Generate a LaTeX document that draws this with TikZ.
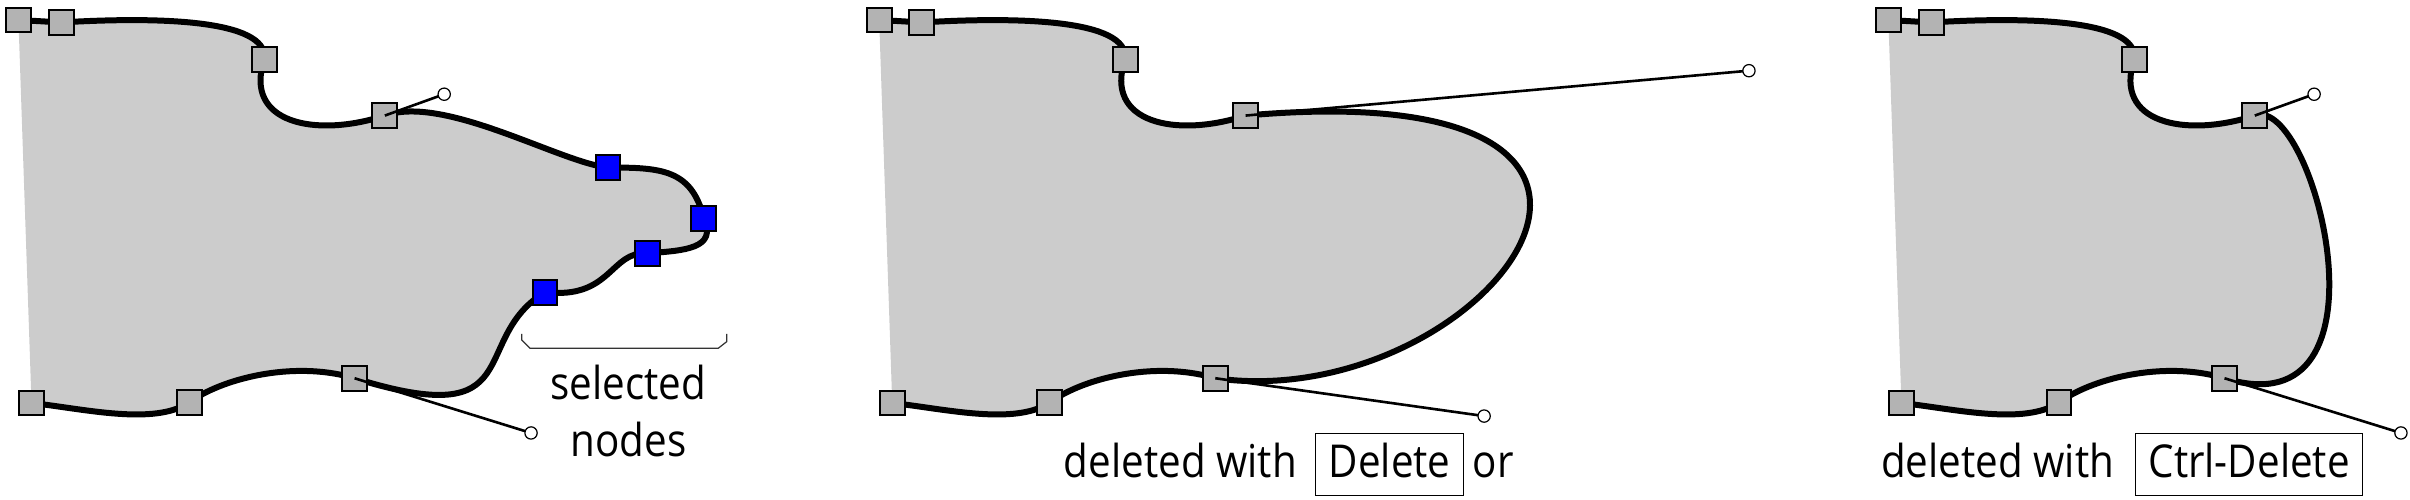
\documentclass[tikz,border=0pt]{standalone}
\usepackage{fontspec}
\newfontfamily\labelfont{Open Sans}[FakeStretch=0.89]
\definecolor{shapefill}{HTML}{CCCCCC}
\definecolor{nodegray}{HTML}{B3B3B3}
\definecolor{selblue}{HTML}{0000FF}
\tikzset{
  outline/.style={draw=black, fill=shapefill, line width=3.9pt, line join=round, line cap=round},
  pt/.style={rectangle, draw=black, line width=1.3pt, fill=nodegray, minimum size=16.2pt, inner sep=0pt},
  selpt/.style={pt, fill=selblue},
  handle/.style={draw=black, line width=1.7pt},
  knob/.style={circle, draw=black, fill=white, line width=0.8pt, minimum size=8pt, inner sep=0pt},
  lbl/.style={font=\labelfont\fontsize{29.5pt}{36.5pt}\selectfont, inner sep=0pt},
  keybox/.style={lbl, draw=black, line width=0.8pt, inner xsep=8.5pt, inner ysep=6.8pt, text height=21.7pt, text depth=5.2pt},
  bracket/.style={draw=black!80, line width=0.8pt},
}
% common parts of the outline (coordinates relative to each panel)
\newcommand\upperpath[1]{(A#1) -- (B#1) .. controls (100,11) and (175,12) .. (C#1) .. controls (158,80) and (205,90) .. (D#1)}
\newcommand\lowerpath[1]{(I#1) .. controls (190,234) and (142.7,247) .. (J#1) .. controls (100,277) and (55,266) .. (K#1)}
\newcommand\panelcoords[1]{%
  \coordinate (A#1) at (12,13);
  \coordinate (B#1) at (39.8,14.6);
  \coordinate (C#1) at (172,38.6);
  \coordinate (D#1) at (250.4,75.2);
  \coordinate (I#1) at (230.7,246.1);
  \coordinate (J#1) at (123,262);
  \coordinate (K#1) at (20.5,262.2);
}
\newcommand\panelnodes[1]{%
  \node[pt] (nA#1) at (A#1) {};
  \node[pt] (nB#1) at (B#1) {};
  \node[pt] (nC#1) at (C#1) {};
  \node[pt] (nD#1) at (D#1) {};
  \node[pt] (nI#1) at (I#1) {};
  \node[pt] (nJ#1) at (J#1) {};
  \node[pt] (nK#1) at (K#1) {};
}
\newcommand\panelhandles[1]{%
  \draw[handle] (D#1) -- (Dh#1);
  \draw[handle] (I#1) -- (Ih#1);
  \node[knob] (kD#1) at (Dh#1) {};
  \node[knob] (kI#1) at (Ih#1) {};
}
\begin{document}
\begin{tikzpicture}[x=1pt,y=-1pt]
\useasboundingbox (0,0) rectangle (1568,325.3);

% ---------- panel 1: selected nodes ----------
\begin{scope}
  \panelcoords{1}
  \coordinate (E1) at (395.6,109);
  \coordinate (F1) at (457.9,142);
  \coordinate (G1) at (421.3,164.8);
  \coordinate (H1) at (354.6,190.1);
  \coordinate (Dh1) at (289,61.3);
  \coordinate (Ih1) at (345.5,281.7);
  \draw[outline] \upperpath{1} .. controls (Dh1) and (365,106) .. (E1)
     .. controls (430,109) and (450,110) .. (F1)
     .. controls (467,162) and (445,163) .. (G1)
     .. controls (397,163) and (398,195) .. (H1)
     .. controls (304,221) and (Ih1) .. \lowerpath{1};
  \panelnodes{1}
  \node[selpt] (nE1) at (E1) {};
  \node[selpt] (nF1) at (F1) {};
  \node[selpt] (nG1) at (G1) {};
  \node[selpt] (nH1) at (H1) {};
  \panelhandles{1}
  \draw[bracket] (339.4,217.3) -- (339.4,221.2) -- (344.8,226.6) -- (467.3,226.6) -- (472.8,222.3) -- (472.8,217.3);
  \node[lbl, anchor=base] (sel) at (408.7,260.2) {selected};
  \node[lbl, anchor=base] (nod) at (409,296.7) {nodes};
\end{scope}

% ---------- panel 2: deleted with Delete ----------
\begin{scope}[xshift=560pt]
  \panelcoords{2}
  \coordinate (Dh2) at (577.9,46);
  \coordinate (Ih2) at (405.6,270.7);
  \draw[outline] \upperpath{2} .. controls (Dh2) and (Ih2) .. \lowerpath{2};
  \panelnodes{2}
  \panelhandles{2}
\end{scope}
\node[lbl, anchor=base west] (dw2) at (692,310.5) {deleted with};
\node[keybox, anchor=base west] (key2) at (855.6,310.5) {Delete};
\node[lbl, anchor=base west] (or2) at (958,310.5) {or};

% ---------- panel 3: deleted with Ctrl-Delete ----------
\begin{scope}[xshift=1216.6pt]
  \panelcoords{3}
  \coordinate (Dh3) at (289,61.3);
  \coordinate (Ih3) at (345.5,281.7);
  \draw[outline] \upperpath{3} .. controls (Dh3) and (Ih3) .. \lowerpath{3};
  \panelnodes{3}
  \panelhandles{3}
\end{scope}
\node[lbl, anchor=base west] (dw3) at (1223.7,310.5) {deleted with};
\node[keybox, anchor=base west] (key3) at (1389,310.5) {Ctrl-Delete};
\end{tikzpicture}
\end{document}
